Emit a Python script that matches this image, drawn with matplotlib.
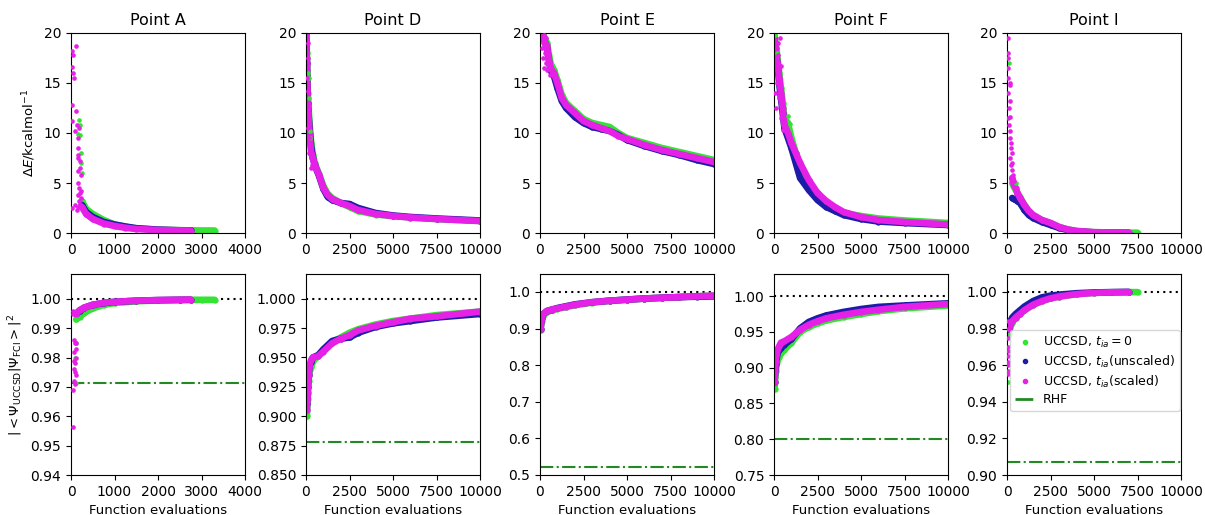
import matplotlib
matplotlib.use("Agg")
import matplotlib.pyplot as plt
from matplotlib.lines import Line2D

# colours of the three UCCSD runs and the RHF reference
C_ZERO = "#35e335"      # t_ia = 0
C_UNSC = "#1c1ca8"      # t_ia (unscaled)
C_SCAL = "#e620e6"      # t_ia (scaled)
C_RHF = "#238a23"

titles = ["Point A", "Point D", "Point E", "Point F", "Point I"]
x_max = [4000, 10000, 10000, 10000, 10000]
x_ticks = [[0, 1000, 2000, 3000, 4000]] + [[0, 2500, 5000, 7500, 10000]] * 4

# ---------------- Point A ----------------
a_x = [250, 350, 500, 750, 1000, 1250, 1500, 2000, 2500, 2750]
a_x_zero = a_x + [3000, 3300]
a_de_zero = [3.2, 2.4, 1.9, 1.3, 0.85, 0.62, 0.46, 0.33, 0.28, 0.26, 0.25, 0.25]
a_de_unsc = [2.8, 2.1, 1.6, 1.1, 0.85, 0.65, 0.48, 0.33, 0.27, 0.26]
a_de_scal = [2.6, 1.9, 1.4, 0.95, 0.7, 0.52, 0.4, 0.3, 0.26, 0.25]
a_noise_de_x = [30, 40, 30, 50, 60, 120, 30, 30, 110, 100, 140, 180, 160, 150, 150, 170, 200, 210,
                170, 220, 160, 190, 200, 220, 100, 30, 150, 180, 210, 240, 130, 170]
a_noise_de_y = [18.2, 17.8, 16.6, 16.0, 15.5, 18.7, 12.8, 11.2, 12.2, 10.2, 10.8, 10.5, 9.5, 8.5, 7.8,
                7.5, 7.2, 6.5, 6.2, 5.8, 5.0, 4.5, 4.0, 3.5, 2.8, 2.5, 3.8, 3.2, 2.9, 4.2, 2.3, 2.6]
a_noise_de_gx = [190, 200, 160, 210, 230, 240, 250]
a_noise_de_gy = [11.3, 10.8, 9.9, 9.8, 8.0, 7.0, 6.0]

a_fx = [120, 200, 300, 500, 750, 1000, 1500, 2000, 2500, 2750]
a_fx_zero = a_fx + [3000, 3300]
a_f_zero = [0.993, 0.9940, 0.9952, 0.9968, 0.9980, 0.9986, 0.9992, 0.9995, 0.9996, 0.9997, 0.9997, 0.9997]
a_f_unsc = [0.995, 0.9960, 0.9970, 0.9980, 0.9986, 0.9990, 0.9994, 0.9996, 0.9997, 0.9997]
a_f_scal = [0.995, 0.9962, 0.9970, 0.9980, 0.9987, 0.9990, 0.9994, 0.9996, 0.9997, 0.9998]
a_noise_f_x = [60, 90, 120, 70, 110, 80, 100, 60, 90, 120, 70, 100, 50, 40, 110, 40, 40]
a_noise_f_y = [0.986, 0.985, 0.985, 0.982, 0.983, 0.979, 0.978, 0.976, 0.975, 0.974, 0.972,
               0.971, 0.969, 0.9565, 0.980, 0.995, 0.996]
a_noise_f_gx = [110, 100, 120, 110]
a_noise_f_gy = [0.985, 0.980, 0.9715, 0.993]
a_rhf = 0.9715

# ---------------- Point D ----------------
d_x = [0, 50, 100, 200, 300, 400, 500, 750, 1000, 1250, 1500, 2000, 2500, 3000, 4000, 5000,
       6000, 7500, 10000]
d_de_zero = [20, 18, 14, 11, 9, 7.8, 7.0, 5.9, 4.7, 3.9, 3.5, 3.0, 2.6, 2.2, 1.85, 1.7, 1.55, 1.4, 1.2]
d_de_unsc = [20, 17, 13, 10.5, 8.5, 7.5, 6.8, 5.7, 4.4, 3.6, 3.3, 3.0, 2.9, 2.5, 2.0, 1.75, 1.6, 1.45, 1.25]
d_de_scal = [20, 17, 13, 10, 8, 7.5, 6.8, 5.8, 4.5, 3.8, 3.4, 3.0, 2.7, 2.3, 1.9, 1.7, 1.55, 1.4, 1.2]
d_noise_de_x = [100, 80, 120, 150, 130, 200, 250, 300, 350, 120, 200, 280]
d_noise_de_y = [17.5, 15.5, 14.2, 12.0, 10.5, 9.5, 8.8, 7.5, 6.8, 19.0, 8.0, 6.5]
d_noise_de_gx = [200, 150, 250, 220, 120]
d_noise_de_gy = [15.5, 13.5, 9.5, 10.2, 16.0]

d_fx = [50, 100, 150, 200, 300, 400, 700, 1000, 1500, 2000, 2500, 3000, 4000, 5000, 6000, 7500, 10000]
d_f_zero = [0.900, 0.915, 0.930, 0.937, 0.942, 0.947, 0.951, 0.956, 0.963, 0.967, 0.971, 0.974,
            0.978, 0.981, 0.983, 0.986, 0.989]
d_f_unsc = [0.910, 0.925, 0.935, 0.943, 0.946, 0.950, 0.952, 0.957, 0.964, 0.966, 0.967, 0.971,
            0.976, 0.979, 0.981, 0.984, 0.987]
d_f_scal = [0.905, 0.920, 0.935, 0.943, 0.948, 0.950, 0.951, 0.955, 0.962, 0.966, 0.969, 0.973,
            0.977, 0.980, 0.983, 0.985, 0.989]
d_rhf = 0.878

# ---------------- Point E ----------------
e_x = [0, 200, 400, 600, 800, 1000, 1250, 1500, 2000, 2500, 3000, 3500, 4000, 4500, 5000,
       6000, 7000, 8000, 9000, 10000]
e_de_zero = [20, 19.8, 19.0, 17.0, 16.3, 15.3, 13.8, 13.0, 12.2, 11.4, 11.0, 10.8, 10.6, 10.0,
             9.5, 9.0, 8.5, 8.1, 7.7, 7.3]
e_de_unsc = [20, 19.5, 18.5, 16.3, 15.7, 14.5, 13.2, 12.5, 11.6, 11.0, 10.6, 10.4, 10.2, 9.8,
             9.3, 8.7, 8.2, 7.8, 7.3, 6.9]
e_de_scal = [20, 19.5, 18.5, 16.5, 16.0, 15.0, 13.5, 12.8, 12.0, 11.2, 10.8, 10.5, 10.2, 9.7,
             9.4, 8.8, 8.3, 7.9, 7.5, 7.1]
e_noise_de_x = [100, 150, 200, 250, 300, 350, 400, 450, 500, 550, 250, 350, 450]
e_noise_de_y = [18.5, 17.5, 19.0, 16.5, 18.0, 17.0, 16.3, 17.8, 16.8, 15.8, 19.8, 19.5, 18.8]

e_fx = [30, 100, 200, 400, 700, 1000, 1500, 2000, 3000, 4000, 5000, 6000, 7000, 8000, 9000, 10000]
e_f_zero = [0.895, 0.920, 0.935, 0.945, 0.950, 0.954, 0.959, 0.964, 0.971, 0.976, 0.979, 0.982,
            0.984, 0.986, 0.988, 0.990]
e_f_unsc = [0.900, 0.930, 0.940, 0.948, 0.952, 0.956, 0.961, 0.966, 0.972, 0.976, 0.979, 0.982,
            0.984, 0.986, 0.987, 0.988]
e_f_scal = [0.900, 0.930, 0.940, 0.948, 0.952, 0.955, 0.960, 0.965, 0.972, 0.976, 0.979, 0.982,
            0.984, 0.986, 0.988, 0.990]
e_rhf = 0.523

# ---------------- Point F ----------------
f_x = [0, 100, 200, 300, 400, 500, 600, 800, 1000, 1250, 1500, 2000, 2500, 3000, 3500, 4000,
       5000, 6000, 7500, 10000]
f_de_zero = [20, 19, 17.5, 16, 14.5, 13, 11.5, 11.0, 9.5, 8.0, 6.8, 5.0, 3.8, 3.0, 2.5, 2.0,
             1.7, 1.45, 1.25, 1.0]
f_de_unsc = [19.5, 18, 17, 15, 13.5, 12, 10.5, 9.5, 8.5, 7.0, 5.5, 4.3, 3.3, 2.6, 2.2, 1.8,
             1.4, 1.15, 1.0, 0.8]
f_de_scal = [19.5, 18, 17, 15.5, 14, 12.5, 10.8, 10.0, 9.0, 8.0, 7.0, 5.3, 4.0, 3.2, 2.6, 2.1,
             1.6, 1.3, 1.1, 0.85]
f_noise_de_x = [150, 250, 350, 400, 200, 300, 100, 400, 500, 80, 300, 450, 250]
f_noise_de_y = [18.5, 17.8, 19.5, 16.7, 15.0, 13.5, 12.5, 11.5, 10.3, 14.0, 16.0, 12.0, 19.0]
f_noise_de_gx = [800, 900, 50, 150]
f_noise_de_gy = [11.7, 10.9, 19.8, 18.0]

f_fx = [30, 100, 200, 300, 400, 600, 1000, 1500, 2000, 2500, 3000, 4000, 5000, 6000, 7500, 10000]
f_f_zero = [0.870, 0.895, 0.910, 0.915, 0.920, 0.925, 0.935, 0.950, 0.957, 0.962, 0.966, 0.971,
            0.975, 0.979, 0.983, 0.987]
f_f_unsc = [0.880, 0.905, 0.920, 0.925, 0.928, 0.932, 0.940, 0.955, 0.964, 0.969, 0.973, 0.978,
            0.982, 0.985, 0.987, 0.990]
f_f_scal = [0.880, 0.910, 0.925, 0.930, 0.935, 0.937, 0.943, 0.953, 0.960, 0.965, 0.969, 0.974,
            0.978, 0.981, 0.985, 0.989]
f_rhf = 0.800

# ---------------- Point I ----------------
i_x = [300, 400, 500, 600, 750, 1000, 1250, 1500, 2000, 2500, 3000, 3500, 4000, 5000, 6000, 7000]
i_x_zero = i_x + [7500]
i_de_zero = [5.0, 4.6, 4.3, 4.0, 3.6, 2.8, 2.2, 1.8, 1.3, 1.0, 0.6, 0.35, 0.2, 0.08, 0.05, 0.03, 0.03]
i_de_unsc = [3.5, 3.4, 3.3, 3.2, 3.0, 2.3, 1.8, 1.5, 1.1, 0.8, 0.5, 0.3, 0.15, 0.05, 0.03, 0.02]
i_de_scal = [5.5, 4.8, 4.5, 4.0, 3.5, 2.8, 2.2, 1.8, 1.3, 1.0, 0.6, 0.35, 0.2, 0.08, 0.05, 0.03]
i_noise_de_x = [30, 50, 40, 60, 30, 60, 150, 200, 170, 80, 180, 200, 150, 250, 300, 200, 250, 300,
                350, 400, 100, 120, 230, 280]
i_noise_de_y = [19.5, 18.0, 17.5, 16.5, 15.5, 14.0, 15.0, 14.8, 13.2, 11.5, 11.6, 10.2, 9.5, 8.5,
                8.0, 7.5, 6.8, 6.3, 5.8, 5.2, 12.5, 10.8, 9.0, 7.0]
i_noise_de_gx = [120, 500]
i_noise_de_gy = [17.0, 5.0]

i_fx = [100, 200, 300, 500, 750, 1000, 1500, 2000, 2500, 3000, 4000, 5000, 6000, 7000]
i_fx_zero = i_fx + [7500]
i_f_zero = [0.977, 0.981, 0.983, 0.986, 0.988, 0.990, 0.993, 0.995, 0.9965, 0.9975, 0.9988,
            0.9995, 0.9998, 0.9999, 0.9999]
i_f_unsc = [0.980, 0.984, 0.986, 0.988, 0.990, 0.992, 0.995, 0.997, 0.998, 0.9985, 0.9993,
            0.9997, 0.9999, 1.0]
i_f_scal = [0.980, 0.982, 0.984, 0.986, 0.988, 0.990, 0.993, 0.995, 0.9965, 0.9975, 0.9988,
            0.9995, 0.9998, 0.9999]
i_noise_f_x = [50, 60, 50, 60, 50, 70, 60, 50, 70, 80]
i_noise_f_y = [0.970, 0.965, 0.960, 0.957, 0.955, 0.968, 0.975, 0.980, 0.984, 0.962]
i_noise_f_gx = [50]
i_noise_f_gy = [0.951]
i_rhf = 0.907

rhf = [a_rhf, d_rhf, e_rhf, f_rhf, i_rhf]
f_ylims = [(0.94, 1.0085), (0.85, 1.021), (0.5, 1.049), (0.75, 1.031), (0.90, 1.0098)]
f_yticks = [[0.94, 0.95, 0.96, 0.97, 0.98, 0.99, 1.00],
            [0.850, 0.875, 0.900, 0.925, 0.950, 0.975, 1.000],
            [0.5, 0.6, 0.7, 0.8, 0.9, 1.0],
            [0.75, 0.80, 0.85, 0.90, 0.95, 1.00],
            [0.90, 0.92, 0.94, 0.96, 0.98, 1.00]]
f_yfmt = ["%.2f", "%.3f", "%.1f", "%.2f", "%.2f"]

top_series = [
    [(a_x_zero, a_de_zero), (a_x, a_de_unsc), (a_x, a_de_scal)],
    [(d_x, d_de_zero), (d_x, d_de_unsc), (d_x, d_de_scal)],
    [(e_x, e_de_zero), (e_x, e_de_unsc), (e_x, e_de_scal)],
    [(f_x, f_de_zero), (f_x, f_de_unsc), (f_x, f_de_scal)],
    [(i_x_zero, i_de_zero), (i_x, i_de_unsc), (i_x, i_de_scal)],
]
bot_series = [
    [(a_fx_zero, a_f_zero), (a_fx, a_f_unsc), (a_fx, a_f_scal)],
    [(d_fx, d_f_zero), (d_fx, d_f_unsc), (d_fx, d_f_scal)],
    [(e_fx, e_f_zero), (e_fx, e_f_unsc), (e_fx, e_f_scal)],
    [(f_fx, f_f_zero), (f_fx, f_f_unsc), (f_fx, f_f_scal)],
    [(i_fx_zero, i_f_zero), (i_fx, i_f_unsc), (i_fx, i_f_scal)],
]
# scattered early evaluations: (green x, green y, magenta x, magenta y)
top_noise = [
    (a_noise_de_gx, a_noise_de_gy, a_noise_de_x, a_noise_de_y),
    (d_noise_de_gx, d_noise_de_gy, d_noise_de_x, d_noise_de_y),
    ([], [], e_noise_de_x, e_noise_de_y),
    (f_noise_de_gx, f_noise_de_gy, f_noise_de_x, f_noise_de_y),
    (i_noise_de_gx, i_noise_de_gy, i_noise_de_x, i_noise_de_y),
]
bot_noise = [
    (a_noise_f_gx, a_noise_f_gy, a_noise_f_x, a_noise_f_y),
    ([], [], [], []),
    ([], [], [], []),
    ([], [], [], []),
    (i_noise_f_gx, i_noise_f_gy, i_noise_f_x, i_noise_f_y),
]

colors = [C_ZERO, C_UNSC, C_SCAL]
plt.rcParams["font.size"] = 9.5
plt.rcParams["xtick.labelsize"] = 10
plt.rcParams["ytick.labelsize"] = 10

fig = plt.figure(figsize=(12.05, 5.15), dpi=100)
lefts = [71, 306, 540, 774, 1007]


def draw_band(ax, series, noise):
    for (x, y), c in zip(series, colors):
        ax.plot(x, y, color=c, lw=4.8, marker="o", ms=3.5, solid_capstyle="round",
                solid_joinstyle="round", zorder=2)
    gx, gy, mx, my = noise
    ax.scatter(gx, gy, s=11, color=C_ZERO, zorder=2, linewidths=0)
    ax.scatter(mx, my, s=11, color=C_SCAL, zorder=3, linewidths=0)


for k in range(5):
    l = lefts[k] / 1205
    w = 174 / 1205
    ax1 = fig.add_axes([l, 1 - 233 / 515, w, 200 / 515])
    ax2 = fig.add_axes([l, 1 - 475 / 515, w, 201 / 515])

    draw_band(ax1, top_series[k], top_noise[k])
    ax1.set_xlim(0, x_max[k])
    ax1.set_ylim(0, 20)
    ax1.set_xticks(x_ticks[k])
    ax1.set_yticks([0, 5, 10, 15, 20])
    ax1.set_title(titles[k], fontsize=11.5, pad=6)

    draw_band(ax2, bot_series[k], bot_noise[k])
    ax2.axhline(1.0, color="black", ls=(0, (1, 2)), lw=1.5, zorder=1)
    ax2.axhline(rhf[k], color=C_RHF, ls="-.", lw=1.5, zorder=1)
    ax2.set_xlim(0, x_max[k])
    ax2.set_ylim(*f_ylims[k])
    ax2.set_xticks(x_ticks[k])
    ax2.set_yticks(f_yticks[k])
    ax2.set_yticklabels([f_yfmt[k] % v for v in f_yticks[k]])
    ax2.set_xlabel("Function evaluations")

    if k == 0:
        ax1.set_ylabel(r"$\Delta E$/kcalmol$^{-1}$")
        ax2.set_ylabel(r"$|<\Psi_{\rm UCCSD}|\Psi_{\rm FCI}>|^2$")

    if k == 4:
        handles = [
            Line2D([], [], ls="", marker="o", ms=3, color=C_ZERO),
            Line2D([], [], ls="", marker="o", ms=3, color=C_UNSC),
            Line2D([], [], ls="", marker="o", ms=3, color=C_SCAL),
            Line2D([], [], ls="-.", lw=2, color=C_RHF),
        ]
        labels = [r"UCCSD, $t_{ia}=0$", r"UCCSD, $t_{ia}$(unscaled)",
                  r"UCCSD, $t_{ia}$(scaled)", "RHF"]
        ax2.legend(handles, labels, loc="lower right", bbox_to_anchor=(1.0, 0.31),
                   borderaxespad=0.1, fontsize=9, handlelength=1.6, handletextpad=0.6,
                   borderpad=0.4, labelspacing=0.3)

fig.savefig("out.png", dpi=100)
